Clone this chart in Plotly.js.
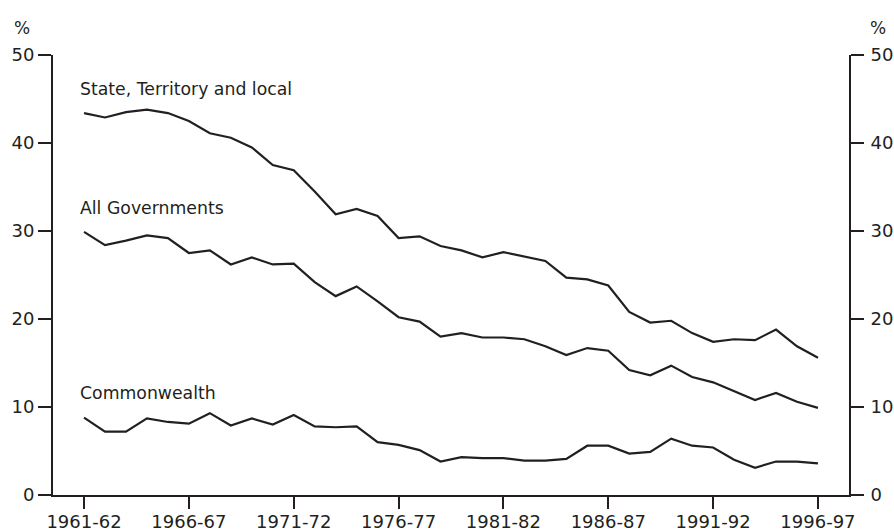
<!DOCTYPE html>
<html>
<head>
<meta charset="utf-8">
<script src="https://cdn.plot.ly/plotly-3.0.1.min.js"></script>
<style>
  html, body { margin: 0; padding: 0; background: #fff; }
  #chart { width: 894px; height: 532px; }
</style>
</head>
<body>
<div id="chart"></div>
<script>
const years = [
  "1961-62","1962-63","1963-64","1964-65","1965-66","1966-67","1967-68","1968-69","1969-70","1970-71",
  "1971-72","1972-73","1973-74","1974-75","1975-76","1976-77","1977-78","1978-79","1979-80","1980-81",
  "1981-82","1982-83","1983-84","1984-85","1985-86","1986-87","1987-88","1988-89","1989-90","1990-91",
  "1991-92","1992-93","1993-94","1994-95","1995-96","1996-97"
];
const stateTerritoryLocal = [
  43.4, 42.9, 43.5, 43.8, 43.4, 42.5, 41.1, 40.6, 39.5, 37.5,
  36.9, 34.5, 31.9, 32.5, 31.7, 29.2, 29.4, 28.3, 27.8, 27.0,
  27.6, 27.1, 26.6, 24.7, 24.5, 23.8, 20.8, 19.6, 19.8, 18.4,
  17.4, 17.7, 17.6, 18.8, 16.9, 15.6
];
const allGovernments = [
  29.9, 28.4, 28.9, 29.5, 29.2, 27.5, 27.8, 26.2, 27.0, 26.2,
  26.3, 24.2, 22.6, 23.7, 22.0, 20.2, 19.7, 18.0, 18.4, 17.9,
  17.9, 17.7, 16.9, 15.9, 16.7, 16.4, 14.2, 13.6, 14.7, 13.4,
  12.8, 11.8, 10.8, 11.6, 10.6, 9.9
];
const commonwealth = [
  8.8, 7.2, 7.2, 8.7, 8.3, 8.1, 9.3, 7.9, 8.7, 8.0,
  9.1, 7.8, 7.7, 7.8, 6.0, 5.7, 5.1, 3.8, 4.3, 4.2,
  4.2, 3.9, 3.9, 4.1, 5.6, 5.6, 4.7, 4.9, 6.4, 5.6,
  5.4, 4.0, 3.1, 3.8, 3.8, 3.6
];
const tickYears = ["1961-62","1966-67","1971-72","1976-77","1981-82","1986-87","1991-92","1996-97"];
const yTicks = [0, 10, 20, 30, 40, 50];
const seriesNames = ["State, Territory and local", "All Governments", "Commonwealth"];
const labelY = [46.1, 32.65, 11.6];

const ink = "#231f20";
const fontFam = "DejaVu Sans, Verdana, sans-serif";

function lineTrace(vals, name, yaxis) {
  return {
    x: years, y: vals, name: name, type: "scatter", mode: "lines",
    line: { color: ink, width: 2.2 }, yaxis: yaxis || "y", hoverinfo: "x+y"
  };
}

const data = [
  lineTrace(stateTerritoryLocal, seriesNames[0]),
  lineTrace(allGovernments, seriesNames[1]),
  lineTrace(commonwealth, seriesNames[2]),
  { x: years, y: commonwealth, yaxis: "y2", type: "scatter", mode: "lines",
    line: { color: "rgba(0,0,0,0)", width: 0 }, hoverinfo: "skip", showlegend: false }
];

const axisCommon = {
  range: [0, 50], tickvals: yTicks, ticks: "outside", ticklen: 13, tickwidth: 2,
  tickcolor: ink, showline: true, linecolor: ink, linewidth: 2, showgrid: false,
  zeroline: false, tickfont: { family: fontFam, size: 18, color: ink }, fixedrange: true
};

const annotations = seriesNames.map((t, i) => ({
  text: t, xref: "paper", yref: "y", x: 0.032, y: labelY[i],
  xanchor: "left", yanchor: "middle", showarrow: false,
  font: { family: fontFam, size: 17.3, color: ink }
}));
annotations.push(
  { text: "%", xref: "paper", yref: "paper", x: -0.039, y: 1.062, xanchor: "center", yanchor: "middle",
    showarrow: false, font: { family: fontFam, size: 17, color: ink } },
  { text: "%", xref: "paper", yref: "paper", x: 1.036, y: 1.062, xanchor: "center", yanchor: "middle",
    showarrow: false, font: { family: fontFam, size: 17, color: ink } }
);

const layout = {
  width: 894, height: 532,
  margin: { l: 53, r: 45, t: 55, b: 37 },
  paper_bgcolor: "#ffffff", plot_bgcolor: "#ffffff",
  showlegend: false,
  xaxis: {
    type: "category", range: [-1.48, 36.48], tickvals: tickYears, ticktext: tickYears,
    ticks: "outside", ticklen: 12, tickwidth: 2, tickcolor: ink,
    showline: true, linecolor: ink, linewidth: 2, showgrid: false, zeroline: false,
    ticklabelstandoff: -3,
    tickfont: { family: fontFam, size: 18, color: ink }, fixedrange: true
  },
  yaxis: Object.assign({ side: "left" }, axisCommon),
  yaxis2: Object.assign({ side: "right", overlaying: "y", anchor: "x", ticklabelstandoff: 3 }, axisCommon),
  annotations: annotations
};

Plotly.newPlot("chart", data, layout, { displayModeBar: false, staticPlot: true });
</script>
</body>
</html>
